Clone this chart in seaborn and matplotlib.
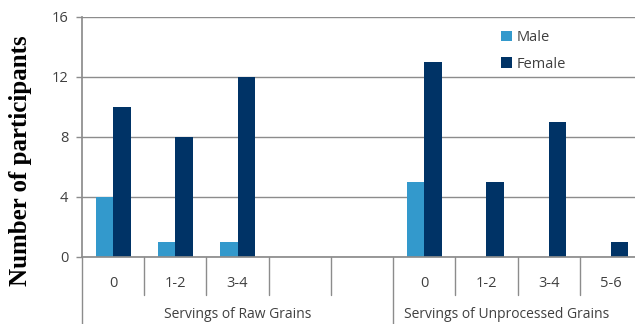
import matplotlib
matplotlib.use("Agg")
import matplotlib.pyplot as plt
import matplotlib.transforms as mtransforms
import seaborn as sns
import pandas as pd

# Category slots along the x axis (two empty slots pad the first group)
slots = ["R0", "R1", "R2", "R3", "R4", "U0", "U1", "U2", "U3"]
slot_labels = ["0", "1-2", "3-4", "", "", "0", "1-2", "3-4", "5-6"]
group_names = ["Servings of Raw Grains", "Servings of Unprocessed Grains"]

# Servings with data
data_slots = ["R0", "R1", "R2", "U0", "U1", "U2", "U3"]
male = [4, 1, 1, 5, 0, 0, 0]
female = [10, 8, 12, 13, 5, 9, 1]

colors = {"Male": "#3399cc", "Female": "#003366"}

df = pd.DataFrame({
    "slot": data_slots * 2,
    "sex": ["Male"] * len(data_slots) + ["Female"] * len(data_slots),
    "count": male + female,
})

sns.set_theme(style="white")
plt.rcParams["font.family"] = ["Open Sans", "DejaVu Sans"]

fig = plt.figure(figsize=(6.35, 3.24), dpi=100)
W, H = 635, 324
left, right, top, bottom = 82, 642, 17, 257
ax = fig.add_axes([left / W, 1 - bottom / H, (right - left) / W, (bottom - top) / H])

sns.barplot(data=df, x="slot", y="count", hue="sex", order=slots,
            hue_order=["Male", "Female"], palette=colors, width=0.56,
            saturation=1, edgecolor="none", ax=ax)

grey = "#8c8c8c"
ax.set_ylim(0, 16)
ax.set_xlim(-0.5, 8.5)
ax.set_yticks([0, 4, 8, 12, 16])
ax.yaxis.grid(True, color=grey, linewidth=1)
ax.set_axisbelow(True)
for s in ["top", "right"]:
    ax.spines[s].set_visible(False)
ax.spines["left"].set_color(grey)
ax.spines["bottom"].set_color(grey)
ax.tick_params(axis="y", left=True, length=4.3, width=1, color=grey,
               labelsize=10.5, labelcolor="#404040", pad=5.5)
ax.tick_params(axis="x", bottom=False, labelsize=10.5, labelcolor="#404040", pad=8)
ax.set_xticks(range(len(slots)))
ax.set_xticklabels(slot_labels)
ax.set_xlabel("")
ax.set_ylabel("Number of participants", family=["Liberation Serif"],
              fontweight="bold", fontsize=18, color="black", va="center")
ax.yaxis.set_label_coords((21 - left) / (right - left), (bottom - 161) / (bottom - top))

# Category dividers below the axis and the taller group dividers
trans = mtransforms.blended_transform_factory(ax.transData, ax.transAxes)
px = 1 / (bottom - top)
for k in range(len(slots) - 1):
    xk = k + 0.5
    depth = (H - bottom) if slots[k + 1].endswith("0") else 38
    ax.plot([xk, xk], [0, -depth * px], transform=trans,
            color=grey, lw=1, clip_on=False)
ax.plot([-0.5, -0.5], [0, -(H - bottom) * px], transform=trans,
        color=grey, lw=1, clip_on=False)

ax.text(2.0, -58 * px, group_names[0], transform=trans, ha="center", va="center",
        fontsize=10, color="#404040")
ax.text(6.33, -58 * px, group_names[1], transform=trans, ha="center", va="center",
        fontsize=10, color="#404040")

leg = ax.legend(loc="upper left", bbox_to_anchor=((495 - left) / (right - left), 0.97),
                frameon=False, fontsize=10.5, handlelength=0.75, handleheight=0.75,
                handletextpad=0.3, labelspacing=0.8, borderaxespad=0)
for t in leg.get_texts():
    t.set_color("#404040")

fig.savefig("out.png", dpi=100)
